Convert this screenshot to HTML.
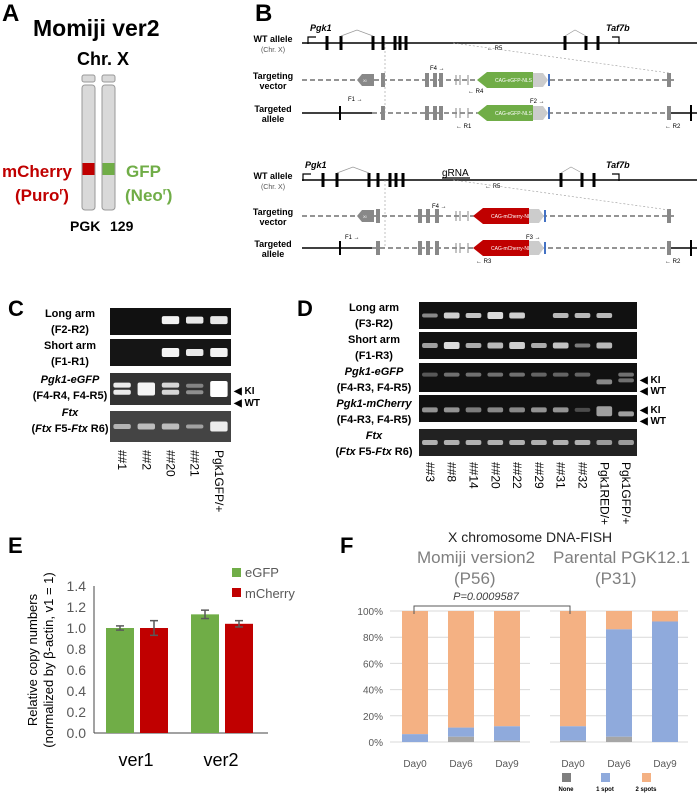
<!DOCTYPE html>
<html><head><meta charset="utf-8">
<style>
body{margin:0;width:697px;height:794px;background:#fff;position:relative;overflow:hidden;font-family:"Liberation Sans",sans-serif}
.t{position:absolute;white-space:nowrap}
.pl{position:absolute;font-weight:bold;font-size:22px}
.gl{position:absolute;font-size:11px;font-weight:bold;text-align:center;line-height:16px}
</style></head><body>
<div class="pl" style="left:2px;top:0px;font-size:24px">A</div>
<div class="pl" style="left:255px;top:0px;font-size:24px">B</div>
<div class="pl" style="left:8px;top:296px">C</div>
<div class="pl" style="left:297px;top:296px">D</div>
<div class="pl" style="left:8px;top:533px">E</div>
<div class="pl" style="left:340px;top:533px">F</div>

<!-- Panel A -->
<div class="t" style="left:33px;top:15px;font-size:23px;font-weight:bold">Momiji ver2</div>
<div class="t" style="left:77px;top:49px;font-size:18px;font-weight:bold">Chr. X</div>
<svg style="position:absolute;left:0;top:0" width="250" height="300">
<rect x="82" y="75" width="13" height="7" rx="2" fill="#d9d9d9" stroke="#999"/>
<rect x="102" y="75" width="13" height="7" rx="2" fill="#d9d9d9" stroke="#999"/>
<rect x="82" y="85" width="13" height="125" rx="3" fill="#d9d9d9" stroke="#999"/>
<rect x="102" y="85" width="13" height="125" rx="3" fill="#d9d9d9" stroke="#999"/>
<rect x="82.5" y="163" width="12" height="12" fill="#c00000"/>
<rect x="102.5" y="163" width="12" height="12" fill="#70ad47"/>
</svg>
<div class="t" style="left:2px;top:162px;font-size:17px;font-weight:bold;color:#c00000">mCherry</div>
<div class="t" style="left:15px;top:186px;font-size:17px;font-weight:bold;color:#c00000">(Puro<sup style="font-size:10px">r</sup>)</div>
<div class="t" style="left:126px;top:162px;font-size:17px;font-weight:bold;color:#70ad47">GFP</div>
<div class="t" style="left:125px;top:186px;font-size:17px;font-weight:bold;color:#70ad47">(Neo<sup style="font-size:10px">r</sup>)</div>
<div class="t" style="left:70px;top:218px;font-size:14px;font-weight:bold">PGK</div>
<div class="t" style="left:110px;top:218px;font-size:14px;font-weight:bold">129</div>

<!-- Panel B -->
<svg id="bsvg" style="position:absolute;left:0;top:0" width="697" height="290"></svg>

<!-- Panel C -->
<svg id="csvg" style="position:absolute;left:0;top:300px" width="360" height="215"></svg>
<div class="gl" style="left:25px;top:306px;width:90px">Long arm<br>(F2-R2)</div>
<div class="gl" style="left:25px;top:338px;width:90px">Short arm<br>(F1-R1)</div>
<div class="gl" style="left:15px;top:372px;width:110px"><i>Pgk1-eGFP</i><br>(F4-R4, F4-R5)</div>
<div class="gl" style="left:15px;top:405px;width:110px"><i>Ftx</i><br>(<i>Ftx</i> F5-<i>Ftx</i> R6)</div>

<!-- Panel D -->
<svg id="dsvg" style="position:absolute;left:360px;top:300px" width="337" height="235"></svg>
<div class="gl" style="left:324px;top:300px;width:100px">Long arm<br>(F3-R2)</div>
<div class="gl" style="left:324px;top:332px;width:100px">Short arm<br>(F1-R3)</div>
<div class="gl" style="left:319px;top:364px;width:110px"><i>Pgk1-eGFP</i><br>(F4-R3, F4-R5)</div>
<div class="gl" style="left:319px;top:396px;width:110px"><i>Pgk1-mCherry</i><br>(F4-R3, F4-R5)</div>
<div class="gl" style="left:319px;top:428px;width:110px"><i>Ftx</i><br>(<i>Ftx</i> F5-<i>Ftx</i> R6)</div>

<!-- Panel E -->
<svg id="esvg" style="position:absolute;left:0;top:560px" width="360" height="234"></svg>

<!-- Panel F -->
<div class="t" style="left:448px;top:529px;font-size:14px;color:#222">X chromosome DNA-FISH</div>
<div class="t" style="left:417px;top:548px;font-size:17px;color:#7f7f7f">Momiji version2</div>
<div class="t" style="left:454px;top:569px;font-size:17px;color:#7f7f7f">(P56)</div>
<div class="t" style="left:553px;top:548px;font-size:17px;color:#7f7f7f">Parental PGK12.1</div>
<div class="t" style="left:595px;top:569px;font-size:17px;color:#7f7f7f">(P31)</div>
<svg id="fsvg" style="position:absolute;left:340px;top:560px" width="357" height="234"></svg>

<script>
const NS="http://www.w3.org/2000/svg";
function mk(p,tag,a,txt){const e=document.createElementNS(NS,tag);for(const k in a)e.setAttribute(k,a[k]);if(txt!==undefined)e.textContent=txt;p.appendChild(e);return e;}

/* ---------- Panel B diagram ---------- */
const B=document.getElementById('bsvg');
function label(y,l1,l2,small){
  mk(B,'text',{x:273,y:y-1,'font-size':9,'font-weight':'bold','text-anchor':'middle'},l1);
  mk(B,'text',{x:273,y:y+9,'font-size':small?7:9,'font-weight':small?'normal':'bold','text-anchor':'middle',fill:small?'#555':'#000'},l2);
}
function wt(y,ex,sh){
  mk(B,'line',{x1:302,y1:y,x2:697,y2:y,stroke:'#000','stroke-width':1.5});
  ex.forEach(function(x,i){mk(B,'rect',{x:x-1.5,y:y-7,width:3,height:14,fill:'#000'});});
  mk(B,'polyline',{points:ex[1]+','+(y-7)+' '+(ex[1]+16)+','+(y-13)+' '+ex[2]+','+(y-7),fill:'none',stroke:'#999','stroke-width':0.7});
  mk(B,'polyline',{points:ex[7]+','+(y-7)+' '+(ex[7]+10)+','+(y-13)+' '+ex[8]+','+(y-7),fill:'none',stroke:'#999','stroke-width':0.7});
  mk(B,'text',{x:sh+2,y:y-12,'font-size':9,'font-style':'italic','font-weight':'bold'},'Pgk1');
  mk(B,'polyline',{points:sh+','+(y+1)+' '+sh+','+(y-6)+' '+(sh+8)+','+(y-6),fill:'none',stroke:'#000','stroke-width':1.2});
  mk(B,'text',{x:606,y:y-12,'font-size':9,'font-style':'italic','font-weight':'bold'},'Taf7b');
  mk(B,'polyline',{points:'619,'+(y+1)+' 619,'+(y-6)+' 612,'+(y-6),fill:'none',stroke:'#000','stroke-width':1.2});
}
function mod(y,ex,col,txt,targeted,tag){
  if(targeted){
    mk(B,'line',{x1:302,y1:y,x2:372,y2:y,stroke:'#000','stroke-width':1.5});
    mk(B,'rect',{x:339,y:y-7,width:2,height:14,fill:'#000'});
    mk(B,'line',{x1:372,y1:y,x2:669,y2:y,stroke:'#555','stroke-width':1.3,'stroke-dasharray':'5,3'});
    mk(B,'line',{x1:669,y1:y,x2:697,y2:y,stroke:'#000','stroke-width':1.5});
    mk(B,'rect',{x:690,y:y-8,width:2,height:16,fill:'#000'});
  } else {
    mk(B,'line',{x1:302,y1:y,x2:674,y2:y,stroke:'#555','stroke-width':1.3,'stroke-dasharray':'5,3'});
    mk(B,'path',{d:'M362 '+(y-6)+' L374 '+(y-6)+' L374 '+(y+6)+' L362 '+(y+6)+' L357 '+y+'Z',fill:'#888'});
    mk(B,'text',{x:363,y:y+2,'font-size':4,fill:'#fff'},tag);
  }
  ex.forEach(function(x){mk(B,'rect',{x:x-2,y:y-7,width:4,height:14,fill:'#888'});});
  mk(B,'rect',{x:667,y:y-7,width:4,height:14,fill:'#888'});
  [456,460,468].forEach(function(x){mk(B,'line',{x1:x,y1:y-5,x2:x,y2:y+5,stroke:'#888'});});
  const c0=ex===exT?477:473;
  mk(B,'path',{d:'M'+(c0+10)+' '+(y-8)+' L'+(c0+56)+' '+(y-8)+' L'+(c0+56)+' '+(y+8)+' L'+(c0+10)+' '+(y+8)+' L'+c0+' '+y+'Z',fill:col});
  mk(B,'text',{x:c0+18,y:y+2,'font-size':5,fill:'#fff'},txt);
  mk(B,'path',{d:'M'+(c0+56)+' '+(y-7)+' L'+(c0+66)+' '+(y-7)+' L'+(c0+71)+' '+y+' L'+(c0+66)+' '+(y+7)+' L'+(c0+56)+' '+(y+7)+'Z',fill:'#ccc'});
  mk(B,'rect',{x:c0+71,y:y-6,width:2,height:12,fill:'#4472c4'});
}
const exT=[383,427,435,441];
const exB=[378,420,428,437];
label(43,'WT allele','(Chr. X)',true);label(80,'Targeting','vector');label(113,'Targeted','allele');
label(180,'WT allele','(Chr. X)',true);label(216,'Targeting','vector');label(248,'Targeted','allele');
wt(43,[327,341,373,383,395,400,406,565,586,598],308);
wt(180,[323,337,369,378,390,396,403,561,582,594],303);
mod(80,exT,'#70ad47','CAG-eGFP-NLS',false,'Xi');
mod(113,exT,'#70ad47','CAG-eGFP-NLS',true);
mod(216,exB,'#c00000','CAG-mCherry-NLS',false,'Xi');
mod(248,exB,'#c00000','CAG-mCherry-NLS',true);
mk(B,'text',{x:442,y:176,'font-size':10},'gRNA');
mk(B,'line',{x1:442,y1:178,x2:470,y2:178,stroke:'#000','stroke-width':1.3});
[[50,'\u2190 R5',487],[70,'F4 \u2192',430],[93,'\u2190 R4',468],[103,'F2 \u2192',530],[128,'\u2190 R1',456],[128,'\u2190 R2',665],[101,'F1 \u2192',348],
 [188,'\u2190 R5',485],[208,'F4 \u2192',432],[239,'F3 \u2192',526],[263,'\u2190 R3',476],[263,'\u2190 R2',665],[239,'F1 \u2192',345]].forEach(function(a){mk(B,'text',{x:a[2],y:a[0],'font-size':6},a[1]);});
[[43,113],[180,248]].forEach(function(p){
  mk(B,'line',{x1:385,y1:p[0],x2:385,y2:p[1],stroke:'#999','stroke-width':0.6,'stroke-dasharray':'2,2'});
  mk(B,'line',{x1:453,y1:p[0],x2:669,y2:p[0]+30,stroke:'#999','stroke-width':0.6,'stroke-dasharray':'2,2'});
});

/* ---------- Gels ---------- */
function gel(svg,x0,w,rows,lanes,bands,laneLabels,lblY){
  rows.forEach(function(r,ri){
    const g=mk(svg,'rect',{x:x0,y:r[0],width:w,height:r[1],fill:r[2]||'#111'});
    
    
    bands[ri].forEach(function(b,li){
      if(!b)return;
      const cx=x0+(li+0.5)*w/lanes;
      [].concat(b).forEach(function(bb){
        mk(svg,'rect',{x:cx-w/lanes*0.36,y:r[0]+r[1]*bb[0]-(bb[2]||4)/2,width:w/lanes*0.72,height:bb[2]||4,rx:2,fill:'rgba(255,255,255,'+bb[1]+')'});
      });
    });
  });
  laneLabels.forEach(function(l,li){
    const cx=x0+(li+0.5)*w/lanes;
    const t=mk(svg,'text',{x:0,y:0,'font-size':12,transform:'translate('+(cx-4)+','+lblY+') rotate(90)'},l);
    
    
  });
}
const C=document.getElementById('csvg');
gel(C,110,121,[[8,27],[39,27,'#151515'],[73,32,'#333'],[111,31,'#444']],5,[
  [0,0,[[0.45,0.95,8]],[[0.45,0.9,7]],[[0.45,0.9,8]]],
  [0,0,[[0.5,0.95,9]],[[0.5,0.9,7]],[[0.5,0.95,9]]],
  [[[0.38,0.9,5],[0.6,0.9,5]],[[0.5,0.95,13]],[[0.38,0.8,5],[0.6,0.8,5]],[[0.4,0.4,4],[0.6,0.45,4]],[[0.5,1,16]]],
  [[[0.5,0.6,5]],[[0.5,0.65,6]],[[0.5,0.65,6]],[[0.5,0.5,4]],[[0.5,0.9,10]]]
],['##1','##2','##20','##21','Pgk1GFP/+'],150);
mk(C,'text',{x:234,y:94,'font-size':10,'font-weight':'bold'},'\u25C0 KI');
mk(C,'text',{x:234,y:106,'font-size':10,'font-weight':'bold'},'\u25C0 WT');
const D=document.getElementById('dsvg');
const L=[[0.5,0.65,5]];
gel(D,59,218,[[2,27],[32,27],[63,29],[95,27],[129,27,'#222']],10,[
  [[[0.5,0.5,4]],[[0.5,0.8,6]],[[0.5,0.75,5]],[[0.5,0.85,7]],[[0.5,0.8,6]],0,[[0.5,0.7,5]],[[0.5,0.7,5]],[[0.5,0.7,5]],0],
  [[[0.5,0.6,5]],[[0.5,0.85,7]],L,[[0.5,0.7,6]],[[0.5,0.8,7]],L,[[0.5,0.75,6]],[[0.5,0.45,4]],[[0.5,0.7,6]],0],
  [[[0.4,0.3,4]],[[0.4,0.4,4]],[[0.4,0.4,4]],[[0.4,0.4,4]],[[0.4,0.4,4]],[[0.4,0.35,4]],[[0.4,0.35,4]],[[0.4,0.35,4]],[[0.65,0.5,5]],[[0.4,0.4,4],[0.6,0.4,4]]],
  [[[0.55,0.55,5]],[[0.55,0.55,5]],[[0.55,0.45,5]],[[0.55,0.5,5]],[[0.55,0.5,5]],[[0.55,0.55,5]],[[0.55,0.55,5]],[[0.55,0.25,4]],[[0.6,0.6,10]],[[0.7,0.6,5]]],
  [L,L,L,L,L,L,L,L,[[0.5,0.55,5]],[[0.5,0.55,5]]]
],['##3','##8','##14','##20','##22','##29','##31','##32','Pgk1RED/+','Pgk1GFP/+'],162);
mk(D,'text',{x:280,y:83,'font-size':10,'font-weight':'bold'},'\u25C0 KI');
mk(D,'text',{x:280,y:94,'font-size':10,'font-weight':'bold'},'\u25C0 WT');
mk(D,'text',{x:280,y:113,'font-size':10,'font-weight':'bold'},'\u25C0 KI');
mk(D,'text',{x:280,y:124,'font-size':10,'font-weight':'bold'},'\u25C0 WT');

/* ---------- Panel E chart ---------- */
const eCats=['ver1','ver2'];
const eGFP=[1.00,1.13];
const eGFPerr=[0.02,0.04];
const mCherry=[1.00,1.04];
const mCherryErr=[0.07,0.03];
const eTicks=[0,0.2,0.4,0.6,0.8,1.0,1.2,1.4];
const E=document.getElementById('esvg');
const eY=function(v){return 173-v*(147/1.4);};
const eX=function(i){return 94+10+i*85;};
mk(E,'line',{x1:94,y1:26,x2:94,y2:173,stroke:'#444'});
mk(E,'line',{x1:94,y1:173,x2:268,y2:173,stroke:'#444'});
eTicks.forEach(function(t){const tt=mk(E,'text',{x:86,y:eY(t)+5,'font-size':14,fill:'#595959','text-anchor':'end'},t.toFixed(1));});
function ebar(v,err,x,col,nm){
  const r=mk(E,'rect',{x:x,y:eY(v),width:28,height:eY(0)-eY(v),fill:col});
  
  
  const cx=x+14;
  mk(E,'line',{x1:cx,y1:eY(v+err),x2:cx,y2:eY(v-err),stroke:'#595959','stroke-width':1.5});
  mk(E,'line',{x1:cx-4,y1:eY(v+err),x2:cx+4,y2:eY(v+err),stroke:'#595959','stroke-width':1.5});
  mk(E,'line',{x1:cx-4,y1:eY(v-err),x2:cx+4,y2:eY(v-err),stroke:'#595959','stroke-width':1.5});
}
eCats.forEach(function(c,i){
  ebar(eGFP[i],eGFPerr[i],eX(i)+2,'#70ad47','bar-egfp-'+c);
  ebar(mCherry[i],mCherryErr[i],eX(i)+36,'#c00000','bar-mcherry-'+c);
  const t=mk(E,'text',{x:eX(i)+32,y:206,'font-size':18,'text-anchor':'middle'},c);
  
  
});
mk(E,'rect',{x:232,y:8,width:9,height:9,fill:'#70ad47'});
mk(E,'text',{x:245,y:17,'font-size':13,fill:'#595959'},'eGFP');
mk(E,'rect',{x:232,y:28,width:9,height:9,fill:'#c00000'});
mk(E,'text',{x:245,y:38,'font-size':13,fill:'#595959'},'mCherry');
mk(E,'text',{x:0,y:0,'font-size':13,'text-anchor':'middle',fill:'#000',transform:'translate(37,100) rotate(-90)'},'Relative copy numbers');
mk(E,'text',{x:0,y:0,'font-size':13,'text-anchor':'middle',fill:'#000',transform:'translate(53,100) rotate(-90)'},'(normalized by \u03B2-actin, v1 = 1)');

/* ---------- Panel F chart ---------- */
const fCats=['Day0','Day6','Day9','Day0','Day6','Day9'];
const fNone=[0,4,1,1,4,0];
const fOne=[6,7,11,11,82,92];
const fTicks=[0,20,40,60,80,100];
const F=document.getElementById('fsvg');
const fY=function(v){return 182-v*1.31;};
const fX=function(i){return i<3?62+i*46:220+(i-3)*46;};
fTicks.forEach(function(t){
  mk(F,'line',{x1:50,y1:fY(t),x2:190,y2:fY(t),stroke:'#d9d9d9'});
  mk(F,'line',{x1:210,y1:fY(t),x2:348,y2:fY(t),stroke:'#d9d9d9'});
  const tt=mk(F,'text',{x:43,y:fY(t)+4,'font-size':10,fill:'#595959','text-anchor':'end'},t+'%');
  
  
});
fCats.forEach(function(c,i){
  const x=fX(i),n=fNone[i],o=fOne[i];
  const r1=mk(F,'rect',{x:x,y:fY(100),width:26,height:fY(n+o)-fY(100),fill:'#f4b183'});
  
  
  const r2=mk(F,'rect',{x:x,y:fY(n+o),width:26,height:fY(n)-fY(n+o),fill:'#8faadc'});
  
  
  const r3=mk(F,'rect',{x:x,y:fY(n),width:26,height:fY(0)-fY(n),fill:'#a6a6a6'});
  
  
  const t=mk(F,'text',{x:x+13,y:207,'font-size':10,fill:'#595959','text-anchor':'middle'},c);
  
  
});
mk(F,'polyline',{points:'74,54 74,46 230,46 230,54',fill:'none',stroke:'#595959'});
mk(F,'text',{x:146,y:40,'font-size':11,'font-style':'italic',fill:'#404040','text-anchor':'middle'},'P=0.0009587');
[['None','#7f7f7f',226],['1 spot','#8faadc',265],['2 spots','#f4b183',306]].forEach(function(l){
  mk(F,'rect',{x:l[2]-4,y:213,width:9,height:9,fill:l[1]});
  mk(F,'text',{x:l[2],y:231,'font-size':6,'font-weight':'bold','text-anchor':'middle'},l[0]);
});
</script>
</body></html>
